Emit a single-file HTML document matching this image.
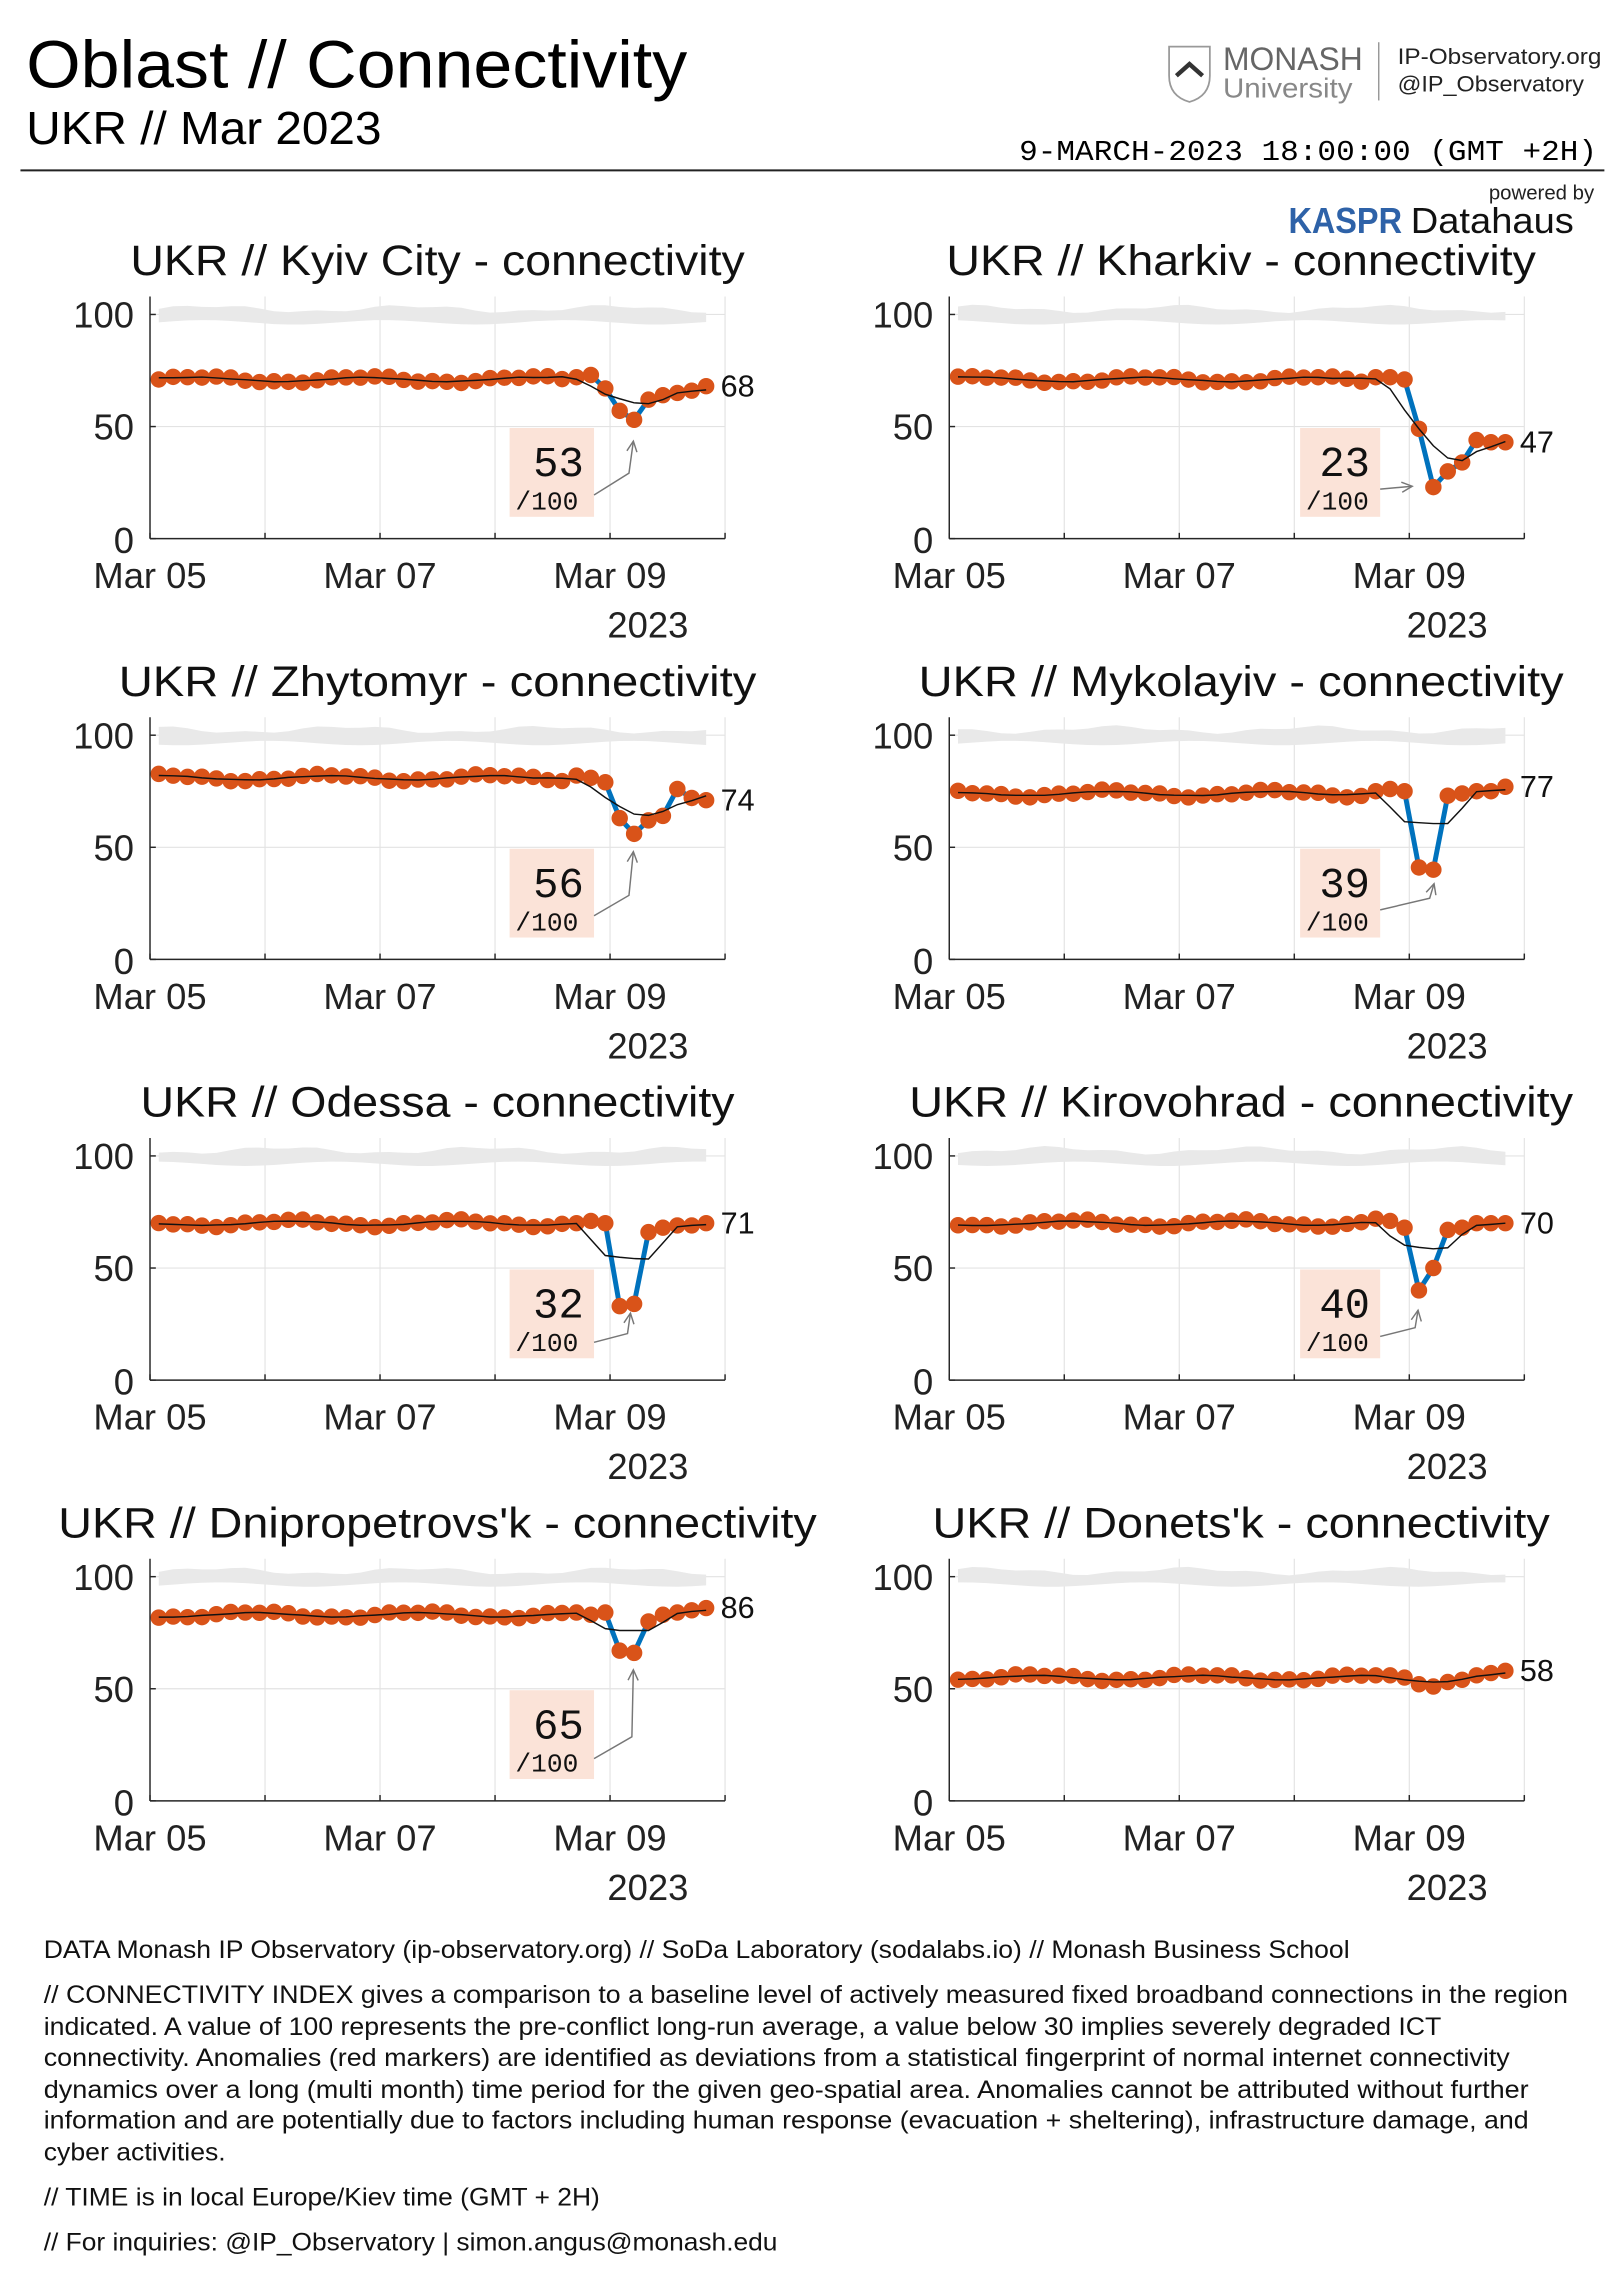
<!DOCTYPE html>
<html><head><meta charset="utf-8"><style>
html,body{margin:0;padding:0;background:#fff;}
svg{display:block;}
text{font-family:"Liberation Sans",sans-serif;}
.mono{font-family:"Liberation Mono","DejaVu Sans Mono",monospace;}
</style></head><body>
<svg id="s" width="1619" height="2274" viewBox="0 0 1112 1562" xmlns="http://www.w3.org/2000/svg">
<rect width="1112" height="1562" fill="#fff"/>
<text x="18" y="60" font-size="46" textLength="454" lengthAdjust="spacingAndGlyphs">Oblast // Connectivity</text>
<text x="18" y="99" font-size="32" textLength="244" lengthAdjust="spacingAndGlyphs">UKR // Mar 2023</text>
<line x1="14" y1="117" x2="1102" y2="117" stroke="#222" stroke-width="1.4"/>
<text class="mono" x="700" y="110" font-size="20" textLength="397" lengthAdjust="spacingAndGlyphs">9-MARCH-2023 18:00:00 (GMT +2H)</text>
<g fill="none" stroke="#999" stroke-width="1.2"><path d="M803 32 L831 32 L831 52 Q831 66 817 70 Q803 66 803 52 Z"/></g>
<path d="M808 52 L817 44 L826 52" stroke="#333" stroke-width="3" fill="none"/>
<text x="840" y="48" font-size="22" fill="#666" textLength="96" lengthAdjust="spacingAndGlyphs">MONASH</text>
<text x="840" y="67" font-size="19" fill="#888" textLength="89" lengthAdjust="spacingAndGlyphs">University</text>
<line x1="947" y1="29" x2="947" y2="69" stroke="#999" stroke-width="1"/>
<text x="960" y="44" font-size="15" fill="#222" textLength="140" lengthAdjust="spacingAndGlyphs">IP-Observatory.org</text>
<text x="960" y="63" font-size="15" fill="#222" textLength="128" lengthAdjust="spacingAndGlyphs">@IP_Observatory</text>
<text x="1095" y="137" font-size="14" text-anchor="end" fill="#222">powered by</text>
<text x="885" y="160" font-size="25" font-weight="bold" fill="#2e62a8" textLength="78" lengthAdjust="spacingAndGlyphs">KASPR</text>
<text x="969" y="160" font-size="25" fill="#111" textLength="112" lengthAdjust="spacingAndGlyphs">Datahaus</text>
<g id="charts"></g>
<g font-size="17" fill="#111">
<text x="30" y="1345" textLength="897" lengthAdjust="spacingAndGlyphs">DATA Monash IP Observatory (ip-observatory.org) // SoDa Laboratory (sodalabs.io) // Monash Business School</text>
<text x="30" y="1376" textLength="1047" lengthAdjust="spacingAndGlyphs">// CONNECTIVITY INDEX gives a comparison to a baseline level of actively measured fixed broadband connections in the region</text>
<text x="30" y="1398" textLength="960" lengthAdjust="spacingAndGlyphs">indicated. A value of 100 represents the pre-conflict long-run average, a value below 30 implies severely degraded ICT</text>
<text x="30" y="1419" textLength="1007" lengthAdjust="spacingAndGlyphs">connectivity.  Anomalies (red markers) are identified as deviations from a statistical fingerprint of normal internet connectivity</text>
<text x="30" y="1441" textLength="1020" lengthAdjust="spacingAndGlyphs">dynamics over a long (multi month) time period for the given geo-spatial area. Anomalies cannot be attributed without further</text>
<text x="30" y="1462" textLength="1020" lengthAdjust="spacingAndGlyphs">information and are potentially due to factors including human response (evacuation + sheltering), infrastructure damage, and</text>
<text x="30" y="1484" textLength="125" lengthAdjust="spacingAndGlyphs">cyber activities.</text>
<text x="30" y="1515" textLength="382" lengthAdjust="spacingAndGlyphs">// TIME is in local Europe/Kiev time (GMT + 2H)</text>
<text x="30" y="1546" textLength="504" lengthAdjust="spacingAndGlyphs">// For inquiries: @IP_Observatory  | simon.angus@monash.edu</text>
</g>
</svg>
<script>
(function(){
var NS="http://www.w3.org/2000/svg";
var g=document.getElementById("charts");
function el(t,a,txt){var e=document.createElementNS(NS,t);for(var k in a)e.setAttribute(k,a[k]);if(txt!==undefined)e.textContent=txt;g.appendChild(e);return e;}
var rows=[216,505,794,1083],cols=[103,652];
var C=[
{n:"Kyiv City",c:0,r:0,b:71,t:[72,73,67,57,53,62,64,65,66,68],lab:"68",tw:422,ann:{v:"53",ar:[[305,124],[329,109],[332,87]]}},
{n:"Kharkiv",c:1,r:0,b:71,t:[72,72,71,49,23,30,34,44,43,43],lab:"47",tw:405,ann:{v:"23",ar:[[296,120],[318,118]]}},
{n:"Zhytomyr",c:0,r:1,b:81,t:[82,81,79,63,56,62,64,76,72,71],lab:"74",tw:438,ann:{v:"56",ar:[[305,124],[329,110],[332,80]]}},
{n:"Mykolayiv",c:1,r:1,b:74,t:[75,76,75,41,40,73,74,75,75,77],lab:"77",tw:443,ann:{v:"39",ar:[[296,120],[330,112],[333,102]]}},
{n:"Odessa",c:0,r:2,b:70,t:[70,71,70,33,34,66,68,69,69,70],lab:"71",tw:408,ann:{v:"32",ar:[[305,128],[328,122],[330,108]]}},
{n:"Kirovohrad",c:1,r:2,b:70,t:[72,71,68,40,50,67,68,70,70,70],lab:"70",tw:456,ann:{v:"40",ar:[[296,124],[320,118],[322,106]]}},
{n:"Dnipropetrovs'k",c:0,r:3,b:83,t:[84,83,84,67,66,80,83,84,85,86],lab:"86",tw:521,ann:{v:"65",ar:[[305,125],[331,110],[332,64]]}},
{n:"Donets'k",c:1,r:3,b:55,t:[56,56,55,52,51,53,54,56,57,58],lab:"58",tw:424,ann:null}
];
C.forEach(function(ch,ci){
 var L=cols[ch.c],Y=rows[ch.r],H=154,W=395;
 function yv(v){return Y+H-v*H/100;}
 function xi(i){return L+6+i*376/38;}
 var top=yv(108),bot=Y+H;
 for(var d=1;d<=5;d++)el("line",{x1:L+d*79,y1:top,x2:L+d*79,y2:bot,stroke:"#e3e3e3","stroke-width":0.8});
 [50,100].forEach(function(v){el("line",{x1:L,y1:yv(v),x2:L+W,y2:yv(v),stroke:"#e3e3e3","stroke-width":0.8});});
 var up=[],dn=[];
 for(var i=0;i<=38;i++){var x=xi(i);up.push(x+","+yv(102.5+1.3*Math.sin(i*0.45+ci)+0.6*Math.sin(i*1.3)).toFixed(1));dn.push(x+","+yv(96.5+1.0*Math.sin(i*0.5+ci*2)).toFixed(1));}
 el("polygon",{points:up.concat(dn.reverse()).join(" "),fill:"#e9e9e9"});
 var v=[];
 for(var i=0;i<29;i++)v.push(ch.b+1.3*Math.sin(i*0.55+ci*0.7)+0.5*Math.sin(i*1.7+ci));
 v=v.concat(ch.t);
 var pts=v.map(function(a,i){return xi(i).toFixed(1)+","+yv(a).toFixed(1);}).join(" ");
 el("polyline",{points:pts,fill:"none",stroke:"#0072bd","stroke-width":3.4,"stroke-linejoin":"round"});
 var sm=v.map(function(a,i){var s=0,n=0;for(var k=-2;k<=2;k++){if(v[i+k]!==undefined){s+=v[i+k];n++;}}return xi(i).toFixed(1)+","+yv(s/n).toFixed(1);}).join(" ");
 v.forEach(function(a,i){el("circle",{cx:xi(i),cy:yv(a),r:5.4,fill:"#d95319",stroke:"#d95319","stroke-width":0.5});});
 el("polyline",{points:sm,fill:"none",stroke:"#111","stroke-width":1});
 el("line",{x1:L,y1:top,x2:L,y2:bot,stroke:"#262626","stroke-width":1});
 el("line",{x1:L,y1:bot,x2:L+W,y2:bot,stroke:"#262626","stroke-width":1});
 for(var d=0;d<=5;d++)el("line",{x1:L+d*79,y1:bot,x2:L+d*79,y2:bot-4,stroke:"#262626","stroke-width":1});
 [0,50,100].forEach(function(t){el("line",{x1:L,y1:yv(t),x2:L+4,y2:yv(t),stroke:"#262626","stroke-width":1});});
 el("text",{x:L-11,y:yv(100)+9,"font-size":25,"text-anchor":"end",fill:"#222"},"100");
 el("text",{x:L-11,y:yv(50)+9,"font-size":25,"text-anchor":"end",fill:"#222"},"50");
 el("text",{x:L-11,y:bot+10,"font-size":25,"text-anchor":"end",fill:"#222"},"0");
 ["Mar 05","Mar 07","Mar 09"].forEach(function(s,k){el("text",{x:L+k*158,y:bot+34,"font-size":25,"text-anchor":"middle",fill:"#222"},s);});
 el("text",{x:L+342,y:bot+68,"font-size":25,"text-anchor":"middle",fill:"#222"},"2023");
 el("text",{x:L+W/2+(ch.c?3:0),y:Y-27,"font-size":29,"text-anchor":"middle",fill:"#111",textLength:ch.tw,lengthAdjust:"spacingAndGlyphs"},"UKR // "+ch.n+" - connectivity");
 el("text",{x:L+392,y:yv(v[38])+7,"font-size":21,fill:"#111"},ch.lab);
 if(ch.ann){
  var bx=L+(ch.c?241:247),by=Y+78,bw=ch.c?55:58;
  el("rect",{x:bx,y:by,width:bw,height:61,fill:"#fbe3d8"});
  el("text",{x:bx+bw-7,y:by+33,"font-size":29,"text-anchor":"end",fill:"#111","class":"mono"},ch.ann.v);
  el("text",{x:bx+4,y:by+56,"font-size":18,fill:"#111","class":"mono"},"/100");
  var a=ch.ann.ar.map(function(p){return [L+p[0],Y+p[1]];});
  el("polyline",{points:a.map(function(p){return p.join(",");}).join(" "),fill:"none",stroke:"#777","stroke-width":1});
  var p1=a[a.length-2],p2=a[a.length-1],ang=Math.atan2(p2[1]-p1[1],p2[0]-p1[0]),s=8;
  var l1=[p2[0]-s*Math.cos(ang-0.45),p2[1]-s*Math.sin(ang-0.45)],l2=[p2[0]-s*Math.cos(ang+0.45),p2[1]-s*Math.sin(ang+0.45)];
  el("polyline",{points:l1.join(",")+" "+p2.join(",")+" "+l2.join(","),fill:"none",stroke:"#777","stroke-width":1});
 }
});
})();
</script>
</body></html>
